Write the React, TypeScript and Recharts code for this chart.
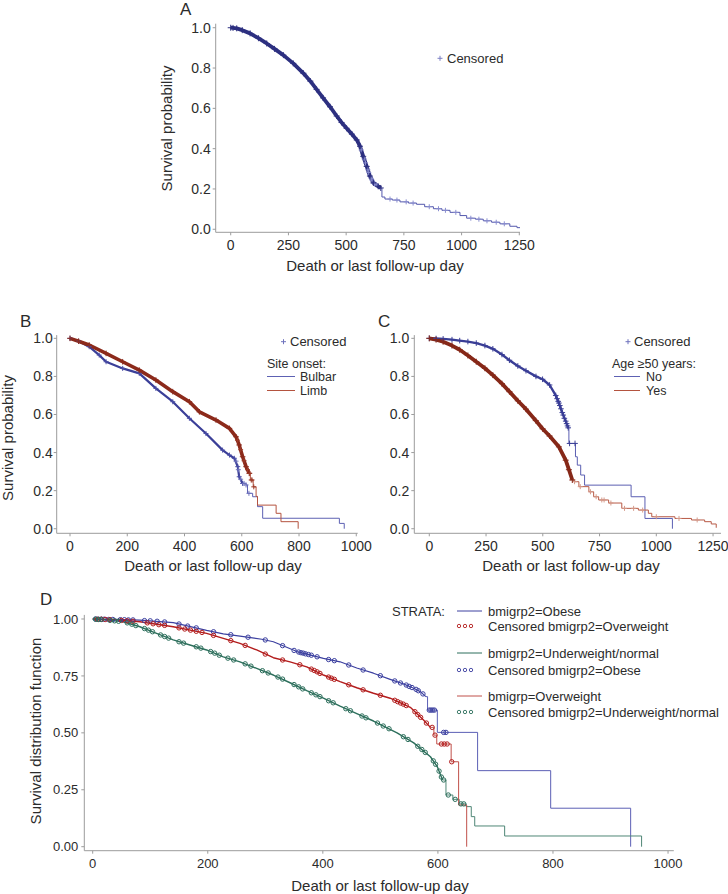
import React from "react";
import { ComposedChart, Line, Scatter, XAxis, YAxis } from "recharts";

const FONT = '"Liberation Sans", Arial, Helvetica, sans-serif';
const INK = "#2b2b2b";
const AXIS = "#9c9c9c";

// ---------- A: all patients ----------
const aDenseT = [0, 10, 26, 50, 84, 120, 156, 190, 228, 271, 315, 345, 372, 400, 430, 459, 480, 502, 525, 546, 560, 574, 589, 603, 618, 639, 650];
const aDenseS = [1.0, 0.999, 0.997, 0.988, 0.972, 0.948, 0.922, 0.895, 0.864, 0.823, 0.774, 0.735, 0.694, 0.652, 0.608, 0.562, 0.53, 0.501, 0.472, 0.443, 0.412, 0.362, 0.312, 0.264, 0.23, 0.213, 0.205];
const aTailT = [650, 655, 668, 700, 733, 770, 805, 840, 878, 915, 950, 993, 1022, 1060, 1094, 1130, 1166, 1209, 1240, 1256];
const aTailS = [0.205, 0.16, 0.15, 0.145, 0.136, 0.13, 0.124, 0.112, 0.102, 0.094, 0.084, 0.068, 0.055, 0.05, 0.042, 0.035, 0.027, 0.015, 0.008, 0.003];
const aCensT = [565, 578, 584, 594, 598, 608, 612, 624, 630, 690, 720, 760, 790, 860, 900, 930, 975, 1040, 1075, 1110, 1150, 1185];
const aCensS = [0.394, 0.349, 0.329, 0.295, 0.281, 0.253, 0.244, 0.225, 0.22, 0.15, 0.145, 0.136, 0.13, 0.112, 0.102, 0.094, 0.084, 0.055, 0.05, 0.042, 0.035, 0.027];

// ---------- B: site of onset ----------
const bLimbT = [0, 30, 67, 126, 184, 242, 300, 359, 417, 452, 510, 557, 580, 591, 603, 615, 626];
const bLimbS = [1.0, 0.985, 0.965, 0.921, 0.877, 0.833, 0.781, 0.72, 0.667, 0.614, 0.571, 0.527, 0.483, 0.44, 0.378, 0.326, 0.291];
const bLimbTailT = [626, 630, 640, 650, 655, 720, 737, 797];
const bLimbTailS = [0.291, 0.256, 0.22, 0.17, 0.124, 0.081, 0.037, 0];
const bLimbCensT = [585, 596, 608, 620, 628, 633, 636, 642];
const bLimbCensS = [0.465, 0.415, 0.357, 0.31, 0.291, 0.256, 0.256, 0.22];

const bBulbT = [0, 30, 67, 102, 126, 184, 242, 300, 359, 417, 475, 533, 557, 574, 586, 591, 603];
const bBulbS = [1.0, 0.985, 0.956, 0.912, 0.877, 0.842, 0.816, 0.737, 0.667, 0.58, 0.5, 0.413, 0.387, 0.37, 0.326, 0.273, 0.238];
const bBulbTailT = [603, 615, 620, 638, 655, 673, 941, 958];
const bBulbTailS = [0.238, 0.23, 0.186, 0.168, 0.116, 0.055, 0.028, 0];
const bBulbCensT = [580, 588, 596, 608, 615, 625];
const bBulbCensS = [0.355, 0.31, 0.26, 0.238, 0.23, 0.186];

// ---------- C: age >= 50 ----------
const cNoT = [0, 30, 61, 100, 134, 170, 207, 245, 280, 320, 353, 390, 426, 470, 499, 530, 557, 571, 586, 601, 612];
const cNoS = [1.0, 0.999, 0.997, 0.993, 0.988, 0.983, 0.975, 0.962, 0.945, 0.915, 0.885, 0.855, 0.83, 0.8, 0.785, 0.755, 0.7, 0.66, 0.61, 0.565, 0.53];
const cNoTailT = [612, 615, 644, 652, 667, 684, 889, 950, 1071];
const cNoTailS = [0.53, 0.448, 0.378, 0.334, 0.282, 0.229, 0.168, 0.054, 0];
const cNoCensT = [563, 568, 575, 580, 590, 595, 605, 609, 618, 642];
const cNoCensS = [0.683, 0.669, 0.647, 0.63, 0.597, 0.58, 0.552, 0.54, 0.448, 0.448];

const cYesT = [0, 30, 61, 100, 134, 170, 207, 245, 280, 320, 353, 390, 426, 469, 499, 530, 571, 601, 615, 630];
const cYesS = [1.0, 0.993, 0.982, 0.962, 0.94, 0.91, 0.877, 0.843, 0.807, 0.762, 0.72, 0.672, 0.628, 0.568, 0.525, 0.487, 0.43, 0.36, 0.31, 0.256];
const cYesTailT = [630, 637, 659, 703, 724, 746, 790, 848, 921, 965, 980, 1082, 1155, 1213, 1242, 1264];
const cYesTailS = [0.256, 0.247, 0.221, 0.194, 0.168, 0.151, 0.135, 0.107, 0.098, 0.081, 0.063, 0.054, 0.046, 0.037, 0.025, 0.005];
const cYesCensT = [640, 665, 710, 735, 760, 770, 800, 860, 900, 940, 1000, 1100, 1180];
const cYesCensS = [0.247, 0.221, 0.194, 0.168, 0.151, 0.151, 0.135, 0.107, 0.107, 0.098, 0.063, 0.054, 0.046];

// ---------- D: BMI group ----------
const dObT = [0, 40, 82, 140, 198, 227, 256, 294, 314, 355, 401, 430, 459, 488, 517, 540, 558, 570, 579];
const dObS = [1.0, 0.998, 0.995, 0.984, 0.95, 0.935, 0.925, 0.911, 0.9, 0.857, 0.827, 0.812, 0.785, 0.762, 0.735, 0.715, 0.696, 0.68, 0.659];
const dObTailT = [579, 582, 599, 669, 796, 935];
const dObTailS = [0.659, 0.6, 0.502, 0.334, 0.169, 0];
const dObCensT = [5, 10, 15, 20, 28, 35, 48, 55, 62, 70, 90, 100, 112, 125, 150, 165, 180, 210, 240, 270, 300, 330, 350, 358, 362, 366, 370, 375, 380, 390, 410, 420, 445, 470, 500, 525, 535, 545, 550, 555, 562, 566, 574, 585, 588, 591, 594, 610, 614];
const dObCensS = [1.0, 0.999, 0.999, 0.999, 0.998, 0.998, 0.997, 0.997, 0.996, 0.996, 0.993, 0.992, 0.99, 0.987, 0.978, 0.969, 0.961, 0.944, 0.931, 0.92, 0.908, 0.883, 0.862, 0.855, 0.852, 0.85, 0.847, 0.844, 0.841, 0.834, 0.822, 0.817, 0.798, 0.776, 0.751, 0.728, 0.719, 0.71, 0.704, 0.699, 0.691, 0.685, 0.671, 0.6, 0.6, 0.6, 0.6, 0.502, 0.502];

const dOvT = [0, 40, 82, 140, 198, 227, 256, 285, 314, 343, 372, 401, 430, 459, 488, 517, 552, 575, 587];
const dOvS = [1.0, 0.996, 0.988, 0.966, 0.937, 0.915, 0.893, 0.864, 0.83, 0.812, 0.79, 0.754, 0.725, 0.698, 0.674, 0.652, 0.612, 0.556, 0.524];
const dOvTailT = [587, 593, 598, 623, 636, 650];
const dOvTailS = [0.524, 0.49, 0.451, 0.373, 0.183, 0];
const dOvCensT = [8, 15, 22, 30, 50, 60, 70, 95, 105, 115, 125, 150, 160, 170, 180, 190, 210, 240, 265, 300, 330, 360, 380, 385, 390, 395, 410, 415, 420, 445, 470, 500, 525, 530, 535, 540, 545, 560, 565, 570, 580, 590, 595, 606, 611, 616, 624];
const dOvCensS = [0.999, 0.999, 0.998, 0.997, 0.994, 0.992, 0.99, 0.983, 0.979, 0.975, 0.972, 0.961, 0.956, 0.951, 0.946, 0.941, 0.928, 0.905, 0.884, 0.846, 0.82, 0.799, 0.78, 0.774, 0.768, 0.761, 0.745, 0.74, 0.735, 0.711, 0.689, 0.665, 0.643, 0.637, 0.631, 0.626, 0.62, 0.593, 0.58, 0.568, 0.543, 0.524, 0.49, 0.451, 0.451, 0.451, 0.373];

const dUnT = [0, 24, 53, 82, 111, 140, 169, 198, 227, 256, 285, 314, 343, 372, 401, 430, 459, 488, 529, 558, 587, 599, 608];
const dUnS = [1.0, 0.996, 0.988, 0.966, 0.937, 0.908, 0.886, 0.864, 0.834, 0.812, 0.783, 0.754, 0.72, 0.685, 0.652, 0.617, 0.584, 0.552, 0.5, 0.456, 0.395, 0.351, 0.293];
const dUnTailT = [608, 614, 626, 637, 649, 658, 664, 716, 954];
const dUnTailS = [0.293, 0.227, 0.208, 0.188, 0.176, 0.132, 0.091, 0.047, 0];
const dUnCensT = [5, 10, 15, 30, 38, 45, 60, 68, 75, 90, 97, 104, 118, 125, 132, 150, 158, 180, 188, 205, 212, 220, 235, 245, 265, 275, 295, 305, 322, 330, 350, 358, 365, 380, 388, 395, 410, 418, 440, 448, 468, 475, 495, 505, 515, 540, 548, 565, 572, 578, 592, 596, 602, 606, 610, 618, 630, 640, 645];
const dUnCensS = [0.999, 0.998, 0.998, 0.994, 0.992, 0.99, 0.983, 0.977, 0.971, 0.958, 0.951, 0.944, 0.93, 0.923, 0.916, 0.9, 0.894, 0.878, 0.872, 0.857, 0.85, 0.841, 0.828, 0.82, 0.803, 0.793, 0.773, 0.763, 0.745, 0.736, 0.712, 0.702, 0.693, 0.676, 0.667, 0.659, 0.641, 0.632, 0.606, 0.597, 0.574, 0.566, 0.543, 0.53, 0.518, 0.483, 0.471, 0.441, 0.427, 0.414, 0.377, 0.362, 0.332, 0.306, 0.293, 0.227, 0.208, 0.188, 0.188];

type Pt = { t: number; s: number };
const zip = (t: number[], s: number[]): Pt[] => t.map((x, i) => ({ t: x, s: s[i] }));

const plusShape = (color: string, r = 2.5, w = 1) => (p: any) => (
  <path
    d={`M${p.cx - r},${p.cy}H${p.cx + r}M${p.cx},${p.cy - r}V${p.cy + r}`}
    stroke={color}
    strokeWidth={w}
    fill="none"
  />
);
const ringShape = (color: string, r = 2.2) => (p: any) => (
  <circle cx={p.cx} cy={p.cy} r={r} fill="none" stroke={color} strokeWidth={1} />
);

type PanelProps = {
  box: { left: number; top: number; width: number; height: number };
  plot: { left: number; top: number; right: number; bottom: number };
  xDomain: [number, number];
  xTicks: number[];
  yDomain: [number, number];
  yTicks: number[];
  yDigits: number;
  tickFont: number;
  yW: number;
  xH: number;
  yGap: number;
  children: React.ReactNode;
};

function Panel(p: PanelProps) {
  const margin = {
    top: p.plot.top - p.box.top,
    left: p.plot.left - p.box.left - p.yW,
    right: p.box.left + p.box.width - p.plot.right,
    bottom: p.box.top + p.box.height - p.plot.bottom - p.xH,
  };
  const tick = { fontSize: p.tickFont, fill: INK, fontFamily: FONT };
  return (
    <div style={{ position: "absolute", left: p.box.left, top: p.box.top }}>
      <ComposedChart width={p.box.width} height={p.box.height} margin={margin}>
        <XAxis
          type="number"
          dataKey="t"
          domain={p.xDomain}
          ticks={p.xTicks}
          interval={0}
          allowDataOverflow
          stroke={AXIS}
          tick={tick}
          tickSize={3}
          tickMargin={5}
          height={p.xH}
        />
        <YAxis
          type="number"
          domain={p.yDomain}
          ticks={p.yTicks}
          interval={0}
          allowDataOverflow
          stroke={AXIS}
          tick={tick}
          tickSize={3}
          tickMargin={p.yGap}
          width={p.yW}
          tickFormatter={(v: number) => v.toFixed(p.yDigits)}
        />
        {p.children}
      </ComposedChart>
    </div>
  );
}

const line = (data: Pt[], color: string, width: number, step: boolean, key: string) => (
  <Line
    key={key}
    data={data}
    dataKey="s"
    type={step ? "stepAfter" : "linear"}
    stroke={color}
    strokeWidth={width}
    strokeLinejoin="round"
    dot={false}
    activeDot={false}
    isAnimationActive={false}
  />
);
const marks = (data: Pt[], shape: any, key: string) => (
  <Scatter key={key} data={data} dataKey="s" shape={shape} isAnimationActive={false} />
);

const Plus = ({ x, y, c }: { x: number; y: number; c: string }) => (
  <path d={`M${x - 2.5},${y}H${x + 2.5}M${x},${y - 2.5}V${y + 2.5}`} stroke={c} strokeWidth={1} />
);
const Rings = ({ x, y, c }: { x: number; y: number; c: string }) => (
  <g fill="none" stroke={c} strokeWidth={0.9}>
    <circle cx={x + 2} cy={y} r={1.7} />
    <circle cx={x + 8} cy={y} r={1.7} />
    <circle cx={x + 14} cy={y} r={1.7} />
  </g>
);

export default function App() {
  const pTicks1 = [0, 0.2, 0.4, 0.6, 0.8, 1.0];
  const dBlue = "#3c40a0";
  const dRed = "#b31d1d";
  const dGreen = "#2d6f5c";
  return (
    <div style={{ position: "absolute", left: 0, top: 0, width: 728, height: 894, background: "#fff", fontFamily: FONT }}>
      <Panel
        box={{ left: 150, top: 0, width: 400, height: 280 }}
        plot={{ left: 215.7, top: 23.7, right: 520, bottom: 232.3 }}
        xDomain={[-65, 1253]}
        xTicks={[0, 250, 500, 750, 1000, 1250]}
        yDomain={[-0.015, 1.02]}
        yTicks={pTicks1}
        yDigits={1}
        tickFont={14}
        yW={50}
        xH={40}
        yGap={2}
      >
        {[
          line(zip(aTailT, aTailS), "#5458ad", 1, true, "at"),
          marks(zip(aCensT, aCensS), plusShape("#8a8ecf", 2.5), "ac"),
          line(zip(aDenseT, aDenseS), "#2d3080", 3.8, false, "ad"),
          marks(zip(aDenseT, aDenseS), plusShape("#2d3080", 3), "am"),
        ]}
      </Panel>

      <Panel
        box={{ left: 0, top: 300, width: 380, height: 290 }}
        plot={{ left: 56.7, top: 335.1, right: 357.7, bottom: 533.3 }}
        xDomain={[-46.5, 1005]}
        xTicks={[0, 200, 400, 600, 800, 1000]}
        yDomain={[-0.024, 1.017]}
        yTicks={pTicks1}
        yDigits={1}
        tickFont={14}
        yW={45}
        xH={40}
        yGap={1}
      >
        {[
          line(zip(bBulbTailT, bBulbTailS), "#5d61b3", 1, true, "bbt"),
          line(zip(bLimbTailT, bLimbTailS), "#b4533f", 1, true, "blt"),
          line(zip(bBulbT, bBulbS), "#3b3f98", 2.2, false, "bbd"),
          marks(zip(bBulbT, bBulbS), plusShape("#4a4ea6", 2.5), "bbm"),
          marks(zip(bBulbCensT, bBulbCensS), plusShape("#6f73bd", 2.5), "bbc"),
          line(zip(bLimbT, bLimbS), "#8c2a1b", 3.6, false, "bld"),
          marks(zip(bLimbT, bLimbS), plusShape("#8c2a1b", 2.8), "blm"),
          marks(zip(bLimbCensT, bLimbCensS), plusShape("#9c3a28", 2.5), "blc"),
        ]}
      </Panel>

      <Panel
        box={{ left: 365, top: 300, width: 363, height: 290 }}
        plot={{ left: 414.3, top: 335.1, right: 721, bottom: 533.3 }}
        xDomain={[-66, 1285]}
        xTicks={[0, 250, 500, 750, 1000, 1250]}
        yDomain={[-0.024, 1.017]}
        yTicks={pTicks1}
        yDigits={1}
        tickFont={14}
        yW={45}
        xH={40}
        yGap={2}
      >
        {[
          line(zip(cNoTailT, cNoTailS), "#5b5fb2", 1, true, "cnt"),
          line(zip(cYesTailT, cYesTailS), "#b85a46", 1, true, "cyt"),
          marks(zip(cYesCensT, cYesCensS), plusShape("#d49a8a", 2.5), "cyc"),
          line(zip(cNoT, cNoS), "#3a3e96", 2.4, false, "cnd"),
          marks(zip(cNoT, cNoS), plusShape("#3a3e96", 2.8), "cnm"),
          marks(zip(cNoCensT, cNoCensS), plusShape("#3a3e96", 2.8), "cnc"),
          line(zip(cYesT, cYesS), "#862818", 3.8, false, "cyd"),
          marks(zip(cYesT, cYesS), plusShape("#862818", 3), "cym"),
        ]}
      </Panel>

      <Panel
        box={{ left: 0, top: 590, width: 700, height: 300 }}
        plot={{ left: 84.3, top: 614.9, right: 673.8, bottom: 850.7 }}
        xDomain={[-14.6, 1010]}
        xTicks={[0, 200, 400, 600, 800, 1000]}
        yDomain={[-0.0176, 1.018]}
        yTicks={[0, 0.25, 0.5, 0.75, 1.0]}
        yDigits={2}
        tickFont={13}
        yW={50}
        xH={35}
        yGap={3}
      >
        {[
          line(zip(dObTailT, dObTailS), "#5b5fb5", 1, true, "dot"),
          line(zip(dUnTailT, dUnTailS), "#4f8676", 1, true, "dut"),
          line(zip(dOvTailT, dOvTailS), "#c0504a", 1, true, "dvt"),
          line(zip(dObT, dObS), dBlue, 1.2, false, "dod"),
          line(zip(dOvT, dOvS), dRed, 1.4, false, "dvd"),
          line(zip(dUnT, dUnS), dGreen, 1.4, false, "dud"),
          marks(zip(dObCensT, dObCensS), ringShape(dBlue), "doc"),
          marks(zip(dOvCensT, dOvCensS), ringShape(dRed), "dvc"),
          marks(zip(dUnCensT, dUnCensS), ringShape(dGreen), "duc"),
        ]}
      </Panel>

      <svg
        width={728}
        height={894}
        style={{ position: "absolute", left: 0, top: 0, pointerEvents: "none" }}
        fontFamily={FONT}
        fill={INK}
      >
        {/* panel letters */}
        <text x={180} y={15.2} fontSize={17}>A</text>
        <text x={20} y={327.2} fontSize={17}>B</text>
        <text x={378} y={327.2} fontSize={17}>C</text>
        <text x={40} y={605.2} fontSize={17}>D</text>

        {/* axis titles */}
        <text x={375} y={270.5} fontSize={15} textAnchor="middle">Death or last follow-up day</text>
        <text x={172} y={128.5} fontSize={15} textAnchor="middle" transform="rotate(-90 172 128.5)">Survival probability</text>
        <text x={213} y={571} fontSize={15} textAnchor="middle">Death or last follow-up day</text>
        <text x={12.8} y={438} fontSize={15} textAnchor="middle" transform="rotate(-90 12.8 438)">Survival probability</text>
        <text x={571} y={571} fontSize={15} textAnchor="middle">Death or last follow-up day</text>
        <text x={380} y={890.5} fontSize={15} textAnchor="middle">Death or last follow-up day</text>
        <text x={40.5} y={731} fontSize={15} textAnchor="middle" transform="rotate(-90 40.5 731)">Survival distribution function</text>

        {/* legend A */}
        <Plus x={440} y={58.3} c="#7b7fc4" />
        <text x={447} y={62.9} fontSize={13}>Censored</text>

        {/* legend B */}
        <Plus x={283.5} y={341.7} c="#6f73bd" />
        <text x={290} y={346.3} fontSize={13}>Censored</text>
        <text x={267} y={367.6} fontSize={12.5}>Site onset:</text>
        <line x1={267} x2={295} y1={376.5} y2={376.5} stroke="#5d61b3" strokeWidth={1} />
        <text x={300} y={380.8} fontSize={12.5}>Bulbar</text>
        <line x1={267} x2={295} y1={390.5} y2={390.5} stroke="#b4533f" strokeWidth={1} />
        <text x={300} y={394.8} fontSize={12.5}>Limb</text>

        {/* legend C */}
        <Plus x={628} y={341.7} c="#6f73bd" />
        <text x={634} y={346.3} fontSize={13}>Censored</text>
        <text x={612} y={367.6} fontSize={12.5}>Age ≥50 years:</text>
        <line x1={614} x2={640} y1={376.5} y2={376.5} stroke="#5d61b3" strokeWidth={1} />
        <text x={646} y={380.8} fontSize={12.5}>No</text>
        <line x1={614} x2={640} y1={390.5} y2={390.5} stroke="#b4533f" strokeWidth={1} />
        <text x={646} y={394.8} fontSize={12.5}>Yes</text>

        {/* legend D */}
        <text x={392} y={615.6} fontSize={13}>STRATA:</text>
        <line x1={457} x2={482} y1={611} y2={611} stroke={dBlue} strokeWidth={1} />
        <text x={488} y={615.6} fontSize={13}>bmigrp2=Obese</text>
        <Rings x={457} y={626} c={dRed} />
        <text x={488} y={630.6} fontSize={13}>Censored bmigrp2=Overweight</text>
        <line x1={457} x2={482} y1={653} y2={653} stroke={dGreen} strokeWidth={1} />
        <text x={488} y={657.6} fontSize={13}>bmigrp2=Underweight/normal</text>
        <Rings x={457} y={670} c={dBlue} />
        <text x={488} y={674.6} fontSize={13}>Censored bmigrp2=Obese</text>
        <line x1={457} x2={482} y1={696} y2={696} stroke="#c0504a" strokeWidth={1} />
        <text x={488} y={700.6} fontSize={13}>bmigrp=Overweight</text>
        <Rings x={457} y={712} c={dGreen} />
        <text x={488} y={716.6} fontSize={13}>Censored bmigrp2=Underweight/normal</text>
      </svg>
    </div>
  );
}
